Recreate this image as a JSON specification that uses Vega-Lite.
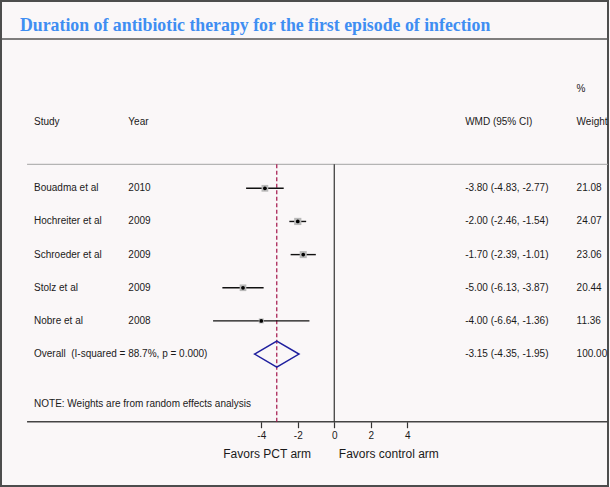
{
  "$schema": "https://vega.github.io/schema/vega-lite/v6.json",
  "width": 607,
  "height": 485,
  "autosize": {"type": "none"},
  "padding": {"left": 1, "top": 1, "right": 2, "bottom": 1},
  "background": "#faf7f8",
  "title": {
    "text": "Duration of antibiotic therapy for the first episode of infection",
    "anchor": "start",
    "frame": "group",
    "orient": "top",
    "baseline": "alphabetic",
    "offset": -47.6,
    "dx": 19,
    "font": "Liberation Serif",
    "fontSize": 17.8,
    "fontWeight": "bold",
    "color": "#3f8ef2"
  },
  "datasets": {
    "rows": [
      {"kind": "header", "study": "", "year": "", "ci": "", "w": "%", "row": -2},
      {"kind": "header", "study": "Study", "year": "Year", "ci": "WMD (95% CI)", "w": "Weight", "row": -1},
      {"kind": "study", "study": "Bouadma et al", "year": "2010", "wmd": -3.80, "lo": -4.83, "hi": -2.77, "weight": 21.08, "ci": "-3.80 (-4.83, -2.77)", "w": "21.08", "row": 1},
      {"kind": "study", "study": "Hochreiter et al", "year": "2009", "wmd": -2.00, "lo": -2.46, "hi": -1.54, "weight": 24.07, "ci": "-2.00 (-2.46, -1.54)", "w": "24.07", "row": 2},
      {"kind": "study", "study": "Schroeder et al", "year": "2009", "wmd": -1.70, "lo": -2.39, "hi": -1.01, "weight": 23.06, "ci": "-1.70 (-2.39, -1.01)", "w": "23.06", "row": 3},
      {"kind": "study", "study": "Stolz et al", "year": "2009", "wmd": -5.00, "lo": -6.13, "hi": -3.87, "weight": 20.44, "ci": "-5.00 (-6.13, -3.87)", "w": "20.44", "row": 4},
      {"kind": "study", "study": "Nobre et al", "year": "2008", "wmd": -4.00, "lo": -6.64, "hi": -1.36, "weight": 11.36, "ci": "-4.00 (-6.64, -1.36)", "w": "11.36", "row": 5},
      {"kind": "overall", "study": "Overall \u00a0(I-squared = 88.7%, p = 0.000)", "year": "", "wmd": -3.15, "lo": -4.35, "hi": -1.95, "weight": 100, "ci": "-3.15 (-4.35, -1.95)", "w": "100.00", "row": 6}
    ]
  },
  "data": {"name": "rows"},
  "layer": [
    {
      "data": {"values": [{}]},
      "mark": {"type": "rule", "color": "#555555", "strokeWidth": 1.5},
      "encoding": {
        "y": {"datum": -3.504, "type": "quantitative", "scale": {"domain": [-4.65, 9.98], "reverse": true, "nice": false, "zero": false}}
      }
    },
    {
      "data": {"values": [{}]},
      "mark": {"type": "rule", "color": "#a3a3a3", "strokeWidth": 1},
      "encoding": {
        "x": {"datum": -16.83, "type": "quantitative", "scale": {"domain": [-18.258, 14.997], "nice": false, "zero": false}},
        "x2": {"datum": 14.997},
        "y": {"datum": 0.276, "type": "quantitative", "scale": {"domain": [-4.65, 9.98], "reverse": true, "nice": false, "zero": false}}
      }
    },
    {
      "data": {"values": [{}]},
      "mark": {"type": "rule", "color": "#444444", "strokeWidth": 1.5},
      "encoding": {
        "x": {"datum": -16.83, "type": "quantitative", "scale": {"domain": [-18.258, 14.997], "nice": false, "zero": false}},
        "x2": {"datum": 14.997},
        "y": {"datum": 8.041, "type": "quantitative", "scale": {"domain": [-4.65, 9.98], "reverse": true, "nice": false, "zero": false}}
      }
    },
    {
      "data": {"values": [{}]},
      "mark": {"type": "rule", "color": "#333333", "strokeWidth": 1.2},
      "encoding": {
        "x": {"datum": 0, "type": "quantitative", "scale": {"domain": [-18.258, 14.997], "nice": false, "zero": false}},
        "y": {"datum": 0.276, "type": "quantitative", "scale": {"domain": [-4.65, 9.98], "reverse": true, "nice": false, "zero": false}},
        "y2": {"datum": 8.041}
      }
    },
    {
      "transform": [{"filter": "datum.kind === 'overall'"}],
      "mark": {"type": "rule", "color": "#a3144a", "strokeWidth": 1.2, "strokeDash": [4, 2.5]},
      "encoding": {
        "x": {"field": "wmd", "type": "quantitative", "title": null, "scale": {"domain": [-18.258, 14.997], "nice": false, "zero": false}},
        "y": {"datum": 0.276, "type": "quantitative", "scale": {"domain": [-4.65, 9.98], "reverse": true, "nice": false, "zero": false}},
        "y2": {"datum": 8.041}
      }
    },
    {
      "transform": [{"filter": "datum.kind === 'study'"}],
      "mark": {"type": "rule", "color": "#111111", "strokeWidth": 1.4},
      "encoding": {
        "x": {
          "field": "lo", "type": "quantitative", "title": null,
          "scale": {"domain": [-18.258, 14.997], "nice": false, "zero": false},
          "axis": {
            "values": [-4, -2, 0, 2, 4],
            "orient": "bottom",
            "offset": -64.3,
            "domain": false,
            "grid": false,
            "ticks": true,
            "tickSize": 6,
            "tickColor": "#333333",
            "tickWidth": 1.2,
            "labelFont": "Liberation Sans",
            "labelFontSize": 10,
            "labelColor": "#1a1a1a",
            "labelPadding": 3,
            "labelExpr": "'' + datum.value",
            "title": null
          }
        },
        "x2": {"field": "hi"},
        "y": {"field": "row", "type": "quantitative", "scale": {"domain": [-4.65, 9.98], "reverse": true, "nice": false, "zero": false}}
      }
    },
    {
      "transform": [{"filter": "datum.kind === 'study'"}],
      "mark": {"type": "point", "shape": "square", "filled": true, "color": "#b9b9b9", "opacity": 1},
      "encoding": {
        "x": {"field": "wmd", "type": "quantitative", "title": null, "scale": {"domain": [-18.258, 14.997], "nice": false, "zero": false}},
        "y": {"field": "row", "type": "quantitative", "scale": {"domain": [-4.65, 9.98], "reverse": true, "nice": false, "zero": false}},
        "size": {"field": "weight", "type": "quantitative", "scale": {"domain": [0, 24], "range": [0, 52]}, "legend": null}
      }
    },
    {
      "transform": [{"filter": "datum.kind === 'study'"}],
      "mark": {"type": "point", "shape": "circle", "filled": true, "color": "#000000", "size": 14, "opacity": 1},
      "encoding": {
        "x": {"field": "wmd", "type": "quantitative", "title": null, "scale": {"domain": [-18.258, 14.997], "nice": false, "zero": false}},
        "y": {"field": "row", "type": "quantitative", "scale": {"domain": [-4.65, 9.98], "reverse": true, "nice": false, "zero": false}}
      }
    },
    {
      "transform": [{"filter": "datum.kind === 'overall'"}],
      "mark": {"type": "point", "shape": "M-1,0L0,-0.585L1,0L0,0.585Z", "filled": false, "stroke": "#1f1f9e", "strokeWidth": 1.5, "size": 1971, "opacity": 1},
      "encoding": {
        "x": {"field": "wmd", "type": "quantitative", "title": null, "scale": {"domain": [-18.258, 14.997], "nice": false, "zero": false}},
        "y": {"field": "row", "type": "quantitative", "scale": {"domain": [-4.65, 9.98], "reverse": true, "nice": false, "zero": false}}
      }
    },
    {
      "mark": {"type": "text"},
      "encoding": {
        "x": {"datum": -16.449, "type": "quantitative"},
        "y": {"field": "row", "type": "quantitative"},
        "text": {"field": "study", "type": "nominal"}
      }
    },
    {
      "mark": {"type": "text"},
      "encoding": {
        "x": {"datum": -11.282, "type": "quantitative"},
        "y": {"field": "row", "type": "quantitative"},
        "text": {"field": "year", "type": "nominal"}
      }
    },
    {
      "mark": {"type": "text"},
      "encoding": {
        "x": {"datum": 7.17, "type": "quantitative"},
        "y": {"field": "row", "type": "quantitative"},
        "text": {"field": "ci", "type": "nominal"}
      }
    },
    {
      "mark": {"type": "text"},
      "encoding": {
        "x": {"datum": 13.277, "type": "quantitative"},
        "y": {"field": "row", "type": "quantitative"},
        "text": {"field": "w", "type": "nominal"}
      }
    },
    {
      "data": {"values": [{}]},
      "mark": {"type": "text", "text": "NOTE: Weights are from random effects analysis"},
      "encoding": {
        "x": {"datum": -16.449, "type": "quantitative"},
        "y": {"datum": 7.516, "type": "quantitative"}
      }
    },
    {
      "data": {"values": [{}]},
      "mark": {"type": "text", "text": "Favors PCT arm", "align": "right", "fontSize": 12},
      "encoding": {
        "x": {"datum": -1.27, "type": "quantitative"},
        "y": {"datum": 9.006, "type": "quantitative"}
      }
    },
    {
      "data": {"values": [{}]},
      "mark": {"type": "text", "text": "Favors control arm", "align": "left", "fontSize": 12},
      "encoding": {
        "x": {"datum": 0.25, "type": "quantitative"},
        "y": {"datum": 9.006, "type": "quantitative"}
      }
    }
  ],
  "config": {
    "view": {"stroke": "#4d4d4d", "strokeWidth": 2},
    "axisY": {"disable": true},
    "text": {"font": "Liberation Sans", "fontSize": 10, "color": "#1a1a1a", "align": "left", "baseline": "middle"}
  }
}
